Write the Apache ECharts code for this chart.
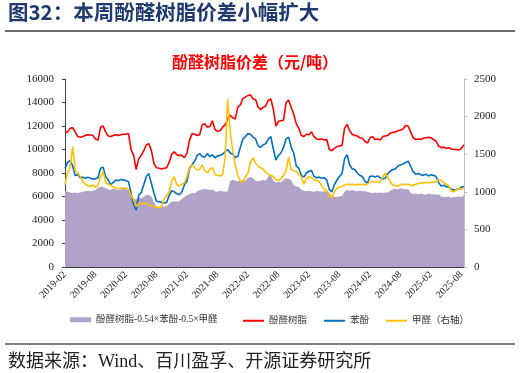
<!DOCTYPE html>
<html>
<head>
<meta charset="utf-8">
<script src="https://cdn.jsdelivr.net/npm/echarts@6/dist/echarts.min.js"></script>
<style>
html,body{margin:0;padding:0;background:#fff;}
#c{width:521px;height:373px;}
</style>
</head>
<body>
<div id="c"></div>
<script>
// half-month dates 2019-02-01 ... 2025-08-16
var categories = [];
for (var y = 2019; y <= 2025; y++) {
  for (var mo = 1; mo <= 12; mo++) {
    if (y === 2019 && mo < 2) continue;
    if (y === 2025 && mo > 8) continue;
    var mm = (mo < 10 ? '0' : '') + mo;
    categories.push(y + '-' + mm + '-01');
    categories.push(y + '-' + mm + '-16');
  }
}

var leftTicks = [0, 2000, 4000, 6000, 8000, 10000, 12000, 14000, 16000];
var rightTicks = [0, 500, 1000, 1500, 2000, 2500];

// 酚醛树脂-0.54×苯酚-0.5×甲醛 (left axis)
var spread = [
 6500,6400,6350,6300,6350,6300,6350,6400,6450,6500,6450,6500,
 6550,6750,6850,6800,6700,6600,6550,6650,6600,6550,6600,6650,
 6600,6550,6000,5800,5750,5900,5850,5950,6150,6100,6000,5500,
 5150,5100,5150,5150,5200,5400,5550,5600,5550,5600,5800,5950,
 6100,6200,6300,6250,6450,6550,6600,6650,6600,6550,6600,6450,
 6400,6500,6450,6400,6450,7350,7400,7350,7300,7350,7400,7350,
 7600,7650,7550,7350,7300,7350,7400,7350,7700,7800,7300,7200,
 7250,7200,7450,7550,7500,7400,6950,6850,6800,6600,6500,6450,
 6500,6450,6400,6500,6450,6400,6450,6400,6300,6050,5950,5950,
 6000,6050,6400,6550,6500,6550,6500,6450,6500,6450,6450,6400,
 6350,6300,6350,6300,6350,6300,6350,6350,6500,6600,6650,6600,
 6700,6650,6600,6650,6300,6200,6250,6200,6250,6200,6150,6250,
 6200,6200,6150,6200,6000,5950,5950,6000,5900,5950,5950,6000,
 5950,6100
];

// 酚醛树脂 (left axis)
var resin = [
 11450,11500,11800,11850,11500,11100,11050,11100,11200,11250,11230,11200,
 10900,10800,11900,12000,11500,11150,11100,11200,11250,11200,11250,11300,
 11300,11350,10000,9500,8300,9200,9500,9900,10400,10500,9900,8800,
 8450,8400,8350,8400,8450,8900,9600,9800,9550,9500,9500,9300,
 9700,10800,11350,11300,11200,11250,12100,12200,11900,11950,12450,11700,
 11550,11600,11900,12100,12600,12900,12700,12600,13600,13800,14350,14450,
 14600,14650,14300,14250,13600,13400,13600,13700,14200,14300,13400,12000,
 12400,12450,12500,14000,14200,13600,13000,12200,11800,11200,11100,11300,
 11250,11500,11100,10900,10850,10900,10800,10850,10000,9900,10100,10250,
 10300,10350,11800,12150,11600,11300,11200,11150,11000,10950,10700,10550,
 11000,11100,10850,10900,10800,11100,11150,11200,11400,11450,11500,11600,
 11650,11750,12050,12000,11500,11000,10850,10900,10850,10950,11000,11050,
 11000,10850,10700,10300,10150,10200,10100,10150,10050,10000,10000,9950,
 10100,10400
];

// 苯酚 (left axis)
var phenol = [
 8400,8900,9050,8600,7800,7850,7600,7650,7550,7650,7550,7500,
 7500,7600,8400,8500,7700,7400,7000,7200,7400,7350,7450,7400,
 7350,7250,6300,5300,4850,6100,6350,7000,7700,7950,7100,6300,
 5600,5550,5500,5450,5500,6100,6500,6400,6250,6150,6400,7000,
 7300,8400,8700,9000,9500,9650,9400,9350,9650,9400,9550,9300,
 9450,9500,9600,9800,10000,9700,9600,9350,9400,10200,10900,11100,
 11350,11300,11050,10900,10300,10200,10400,10500,10900,11100,10000,9100,
 9500,9700,10200,10900,11050,10200,9700,8600,8400,7800,7650,8000,
 8150,8200,7700,7600,7650,7550,7600,7400,6600,6400,7000,7400,
 7700,7950,9200,9550,8700,8350,8300,8000,7800,7700,7300,7150,
 7700,7750,7650,7750,7600,7500,7550,7950,8150,8300,8350,8600,
 8700,8750,8900,9000,8600,8100,7900,7950,7850,7800,7900,7750,
 7850,7800,7700,7200,6900,6950,6850,6800,6650,6550,6600,6650,
 6800,6850
];

// 甲醛 (right axis)
var formaldehyde = [
 1100,1250,1320,1600,1280,1250,1200,1140,1100,1080,1070,1090,
 1060,1090,1200,1270,1120,1100,1090,1060,1050,1040,1050,1045,
 1050,1030,950,900,800,850,840,850,840,830,810,800,
 795,790,800,900,950,1000,1150,1200,1090,1080,1100,1120,
 1200,1330,1360,1320,1290,1300,1360,1280,1250,1300,1320,1230,
 1220,1210,1230,1450,2230,1800,1550,1350,1220,1140,1130,1200,
 1250,1400,1450,1380,1340,1320,1300,1260,1230,1220,1200,1160,
 1150,1170,1220,1280,1460,1300,1280,1270,1230,1200,1100,1180,
 1200,1190,1160,1150,1140,1080,1030,1020,950,920,1000,1050,
 1060,1070,1090,1100,1095,1100,1090,1100,1095,1100,1090,1100,
 1130,1140,1130,1125,1130,1200,1250,1190,1130,1090,1080,1075,
 1095,1100,1095,1100,1090,1085,1100,1110,1115,1120,1125,1120,
 1125,1130,1135,1160,1150,1120,1100,1080,1010,1000,1030,1040,
 1035,1060
];

var names = ['酚醛树脂-0.54×苯酚-0.5×甲醛', '酚醛树脂', '苯酚', '甲醛（右轴）'];
var colors = ['#B1A2C7', '#FF0000', '#0070C0', '#FFC000'];

function showIdx(i, v) { return /-(02|08)-01$/.test(v); }
function plain(v) { return String(v); }

var serif = '"Liberation Serif","Noto Sans CJK SC"';
var legendText = {fontSize: 9.5, fontFamily: serif, color: '#333'};
var chart = echarts.init(document.getElementById('c'), null, {renderer: 'canvas'});
chart.setOption({
  animation: false,
  backgroundColor: '#fff',
  grid: {left: 65, right: 57, top: 79, bottom: 106, containLabel: false},
  graphic: [
    {type: 'text', left: 8, top: 2, style: {text: '图32：本周酚醛树脂价差小幅扩大', font: 'bold 20.5px "Noto Sans CJK SC"', fill: '#1F3A6E'}},
    {type: 'line', shape: {x1: 5, y1: 31, x2: 515, y2: 31}, style: {stroke: '#3A3A3A', lineWidth: 1.5}},
    {type: 'text', x: 255, y: 62, style: {text: '酚醛树脂价差（元/吨）', font: 'bold 16px "Noto Sans CJK SC"', fill: '#FF0000', align: 'center', verticalAlign: 'middle'}},
    {type: 'line', shape: {x1: 5, y1: 344, x2: 515, y2: 344}, style: {stroke: '#808080', lineWidth: 2.2}},
    {type: 'text', x: 8, y: 362, style: {text: '数据来源：Wind、百川盈孚、开源证券研究所', font: '18px ' + serif, fill: '#222', verticalAlign: 'middle'}}
  ],
  legend: [
    {left: 65, top: 310, itemWidth: 21, itemHeight: 5, textStyle: legendText,
     data: [{name: names[0], icon: 'rect'}]},
    {left: 238, top: 311, itemWidth: 21, itemHeight: 2, itemGap: 17, textStyle: legendText,
     data: [{name: names[1], icon: 'rect'}, {name: names[2], icon: 'rect'}, {name: names[3], icon: 'rect'}]}
  ],
  xAxis: {
    type: 'category', data: categories, boundaryGap: false,
    axisLine: {lineStyle: {color: '#404040', width: 1}},
    axisTick: {inside: true, length: 4, interval: showIdx, lineStyle: {color: '#404040'}},
    axisLabel: {interval: showIdx, rotate: 45, margin: 6, fontSize: 10, fontFamily: serif, color: '#222',
      formatter: function (v) { return v.slice(0, 7); }},
    splitLine: {show: false}
  },
  yAxis: [
    {type: 'value', min: leftTicks[0], max: leftTicks[leftTicks.length - 1], interval: leftTicks[1] - leftTicks[0],
     axisLine: {show: true, lineStyle: {color: '#404040'}},
     axisTick: {show: true, length: 3, lineStyle: {color: '#404040'}},
     axisLabel: {margin: 11, fontSize: 11, fontFamily: serif, color: '#222', formatter: plain},
     splitLine: {show: false}},
    {type: 'value', min: rightTicks[0], max: rightTicks[rightTicks.length - 1], interval: rightTicks[1] - rightTicks[0],
     position: 'right',
     axisLine: {show: true, lineStyle: {color: '#BFBFBF'}},
     axisTick: {show: true, length: 3, lineStyle: {color: '#BFBFBF'}},
     axisLabel: {margin: 10, fontSize: 11, fontFamily: serif, color: '#222', formatter: plain},
     splitLine: {show: false}}
  ],
  series: [
    {name: names[0], type: 'line', data: spread, yAxisIndex: 0, symbol: 'none',
     lineStyle: {width: 0, color: colors[0]}, itemStyle: {color: colors[0]},
     areaStyle: {color: colors[0], opacity: 1}},
    {name: names[1], type: 'line', data: resin, yAxisIndex: 0, symbol: 'none',
     lineStyle: {width: 1.6, color: colors[1]}, itemStyle: {color: colors[1]}},
    {name: names[2], type: 'line', data: phenol, yAxisIndex: 0, symbol: 'none',
     lineStyle: {width: 1.6, color: colors[2]}, itemStyle: {color: colors[2]}},
    {name: names[3], type: 'line', data: formaldehyde, yAxisIndex: 1, symbol: 'none',
     lineStyle: {width: 1.6, color: colors[3]}, itemStyle: {color: colors[3]}}
  ]
});
</script>
</body>
</html>
